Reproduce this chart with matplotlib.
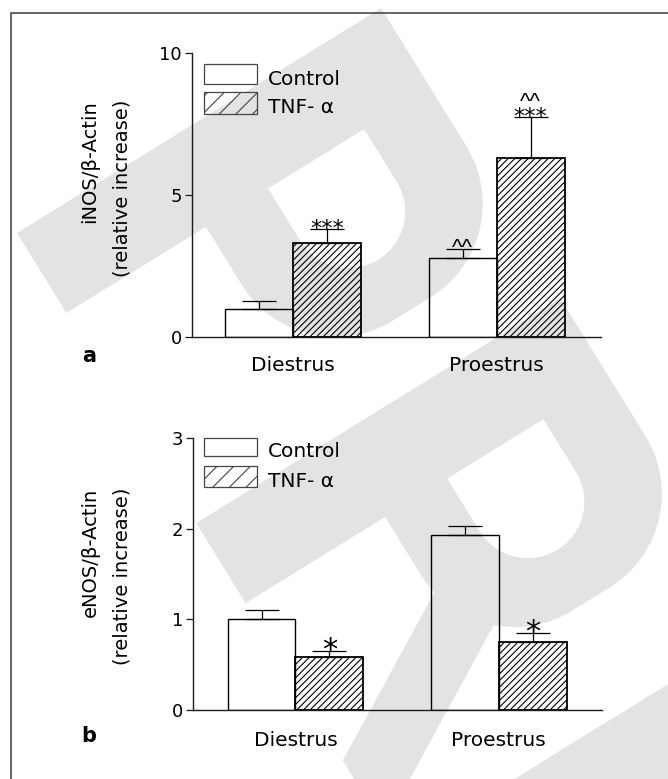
import numpy as np
import matplotlib
matplotlib.use("Agg")
import matplotlib.pyplot as plt
from matplotlib.patches import Polygon, Rectangle
from matplotlib.lines import Line2D

W_PX, H_PX, DPI = 668, 779, 100

# ---------------------------------------------------------------- data
groups = ["Diestrus", "Proestrus"]
series = ["Control", "TNF- α"]

# panel a: iNOS / beta-actin (relative increase), mean and SEM
inos_control = [1.00, 2.80]
inos_control_sem = [0.28, 0.32]
inos_tnf = [3.31, 6.32]
inos_tnf_sem = [0.49, 1.43]
inos_control_marks = [[], ["^^"]]
inos_tnf_marks = [["***"], ["***", "^^"]]
inos_yticks = [0, 5, 10]

# panel b: eNOS / beta-actin (relative increase), mean and SEM
enos_control = [1.00, 1.93]
enos_control_sem = [0.10, 0.10]
enos_tnf = [0.58, 0.75]
enos_tnf_sem = [0.075, 0.105]
enos_control_marks = [[], []]
enos_tnf_marks = [["*"], ["*"]]
enos_yticks = [0, 1, 2, 3]

# ---------------------------------------------------------------- helpers
def fx(x):
    return x / W_PX


def fy(y):
    return 1.0 - y / H_PX


PT = 72.0 / DPI  # points per pixel

fig = plt.figure(figsize=(W_PX / DPI, H_PX / DPI), dpi=DPI)
fig.patch.set_facecolor("white")
plt.rcParams["hatch.linewidth"] = 0.8

# ---------------------------------------------------------------- background watermark glyphs
WM_GREY = "#e2e3e5"
WM_ORIGIN = np.array([17.0, 233.0])
ang = np.deg2rad(31.7)
U_DIR = np.array([np.cos(ang), -np.sin(ang)])
V_DIR = np.array([np.sin(ang), np.cos(ang)])

TOP, BOT, VMAX, RAD, STEM = 428.0, 164.0, 272.0, 110.0, 94.0
C0, C1, CV = 237.0, 350.0, 156.0


def arc(cu, cv, r, a0, a1, n=40):
    t = np.linspace(a0, a1, n)
    return list(zip(cu + r * np.cos(t), cv + r * np.sin(t)))


def glyph_xy(pts, shift):
    p = np.asarray(pts, float)
    xy = WM_ORIGIN + p[:, :1] * U_DIR + (p[:, 1:2] + shift) * V_DIR
    return np.column_stack([xy[:, 0] / W_PX, 1.0 - xy[:, 1] / H_PX])


bowl_outer = ([(0, 0), (TOP, 0), (TOP, VMAX - RAD)]
              + arc(TOP - RAD, VMAX - RAD, RAD, 0, np.pi / 2)
              + [(BOT + RAD, VMAX)]
              + arc(BOT + RAD, VMAX - RAD, RAD, np.pi / 2, np.pi)
              + [(BOT, STEM), (0, STEM)])
bowl_counter = ([(C0, STEM), (C1, STEM), (C1, CV)]
                + arc((C0 + C1) / 2, CV, (C1 - C0) / 2, 0, np.pi)
                + [(C0, CV)])
leg = [(205, 162), (0, 279), (0, 357), (205, 240)]
e_parts = [
    [(0, 0), (TOP, 0), (TOP, STEM), (0, STEM)],
    [(TOP - 74, 0), (TOP, 0), (TOP, 255), (TOP - 74, 255)],
    [(178, 0), (248, 0), (248, 230), (178, 230)],
    [(0, 0), (74, 0), (74, 265), (0, 265)],
]

grey_shapes = [(bowl_outer, 0.0), (bowl_outer, 341.0), (leg, 341.0)]
grey_shapes += [(part, 726.0) for part in e_parts]
for pts, shift in grey_shapes:
    fig.add_artist(Polygon(glyph_xy(pts, shift), closed=True, transform=fig.transFigure,
                           facecolor=WM_GREY, edgecolor="none", zorder=-3))
for shift in (0.0, 341.0):
    fig.add_artist(Polygon(glyph_xy(bowl_counter, shift), closed=True, transform=fig.transFigure,
                           facecolor="white", edgecolor="none", zorder=-2))

# ---------------------------------------------------------------- panels
BAR_W = 0.333
STAR_FONT = ["DejaVu Sans"]
CARET_FONT = ["Liberation Sans", "DejaVu Sans"]

panels = [
    dict(rect=(192.0, 53.3, 600.7, 337.3), xlim=(-0.494, 1.510), ylim=(0, 10),
         yticks=inos_yticks, control=inos_control, control_sem=inos_control_sem,
         tnf=inos_tnf, tnf_sem=inos_tnf_sem,
         control_marks=inos_control_marks, tnf_marks=inos_tnf_marks,
         star_size=16, label_base=371.0,
         ylabel=("iNOS/β-Actin", "(relative increase)"), ylabel_top=100.0,
         letter="a", letter_base=361.7,
         legend_boxes=((64.5, 83.5), (92.5, 114.0)), legend_base=(85.0, 113.3)),
    dict(rect=(193.3, 438.3, 601.7, 710.0), xlim=(-0.502, 1.506), ylim=(0, 3),
         yticks=enos_yticks, control=enos_control, control_sem=enos_control_sem,
         tnf=enos_tnf, tnf_sem=enos_tnf_sem,
         control_marks=enos_control_marks, tnf_marks=enos_tnf_marks,
         star_size=22, label_base=746.0,
         ylabel=("eNOS/β-Actin", "(relative increase)"), ylabel_top=488.0,
         letter="b", letter_base=741.7,
         legend_boxes=((437.5, 455.5), (465.5, 487.0)), legend_base=(456.7, 487.0)),
]


def draw_marks(ax, x, cap, marks, star_size):
    level = 0.0  # pixels above the error-bar cap
    for k, m in enumerate(marks):
        if "*" in m:
            size, fam, rel_c, half = star_size, STAR_FONT, 0.56, 0.215 * star_size / PT
        else:
            size, fam, rel_c, half = 16, CARET_FONT, 0.53, 4.0
        gap = 2.2 if k == 0 else 5.3
        centre = level + gap + half
        level = centre + half
        em = size / PT
        base = centre - rel_c * em
        ax.annotate(m, xy=(x, cap), xycoords="data", xytext=(0, base * PT),
                    textcoords="offset points", ha="center", va="baseline",
                    fontsize=size, family=fam, color="black")


for P in panels:
    x0, y0, x1, y1 = P["rect"]
    ax = fig.add_axes([fx(x0), fy(y1), fx(x1) - fx(x0), (y1 - y0) / H_PX])
    ax.patch.set_visible(False)
    ax.set_xlim(*P["xlim"])
    ax.set_ylim(*P["ylim"])
    for s in ("top", "right"):
        ax.spines[s].set_visible(False)
    for s in ("left", "bottom"):
        ax.spines[s].set_linewidth(1.0)
        ax.spines[s].set_color("#1a1a1a")
    ax.set_xticks([])
    ax.set_yticks(P["yticks"])
    ax.set_yticklabels([str(t) for t in P["yticks"]])
    ax.tick_params(axis="y", length=5, width=0.9, pad=2.4, labelsize=13, color="#1a1a1a")

    centres = np.arange(len(groups), dtype=float)
    xc = centres - BAR_W / 2
    xt = centres + BAR_W / 2
    ax.bar(xc, P["control"], width=BAR_W, facecolor="none", edgecolor="black",
           linewidth=1.0, zorder=3)
    ax.bar(xt, P["tnf"], width=BAR_W, facecolor="none", edgecolor="black",
           linewidth=1.3, hatch="/////", zorder=3)
    for xs, vals, sems in ((xc, P["control"], P["control_sem"]), (xt, P["tnf"], P["tnf_sem"])):
        ax.errorbar(xs, vals, yerr=[np.zeros(len(vals)), sems], fmt="none",
                    ecolor="black", elinewidth=0.9, capsize=12.5, capthick=0.9, zorder=2)

    for i in range(len(groups)):
        draw_marks(ax, xc[i], P["control"][i] + P["control_sem"][i], P["control_marks"][i], P["star_size"])
        draw_marks(ax, xt[i], P["tnf"][i] + P["tnf_sem"][i], P["tnf_marks"][i], P["star_size"])

    # category labels under each pair of bars
    for i, g in enumerate(groups):
        ax.annotate(g, xy=(centres[i], 0), xycoords=("data", "axes fraction"),
                    xytext=(0, -(P["label_base"] - y1) * PT), textcoords="offset points",
                    ha="center", va="baseline", fontsize=14.5)

    # two-line axis title
    fig.text(fx(90), fy(P["ylabel_top"]), P["ylabel"][0], rotation=90,
             ha="center", va="top", fontsize=14)
    fig.text(fx(121.7), fy(P["ylabel_top"]), P["ylabel"][1], rotation=90,
             ha="center", va="top", fontsize=14)

    # panel letter
    fig.text(fx(89), fy(P["letter_base"]), P["letter"], ha="center", va="baseline",
             fontsize=15, fontweight="bold")

    # legend
    for (top, bot), base, name, hatch in zip(P["legend_boxes"], P["legend_base"], series, ("", "//")):
        fig.add_artist(Rectangle((fx(204.4), fy(bot)), (256.7 - 204.4) / W_PX, (bot - top) / H_PX,
                                 transform=fig.transFigure, facecolor="none",
                                 edgecolor="#444444", linewidth=0.9, hatch=hatch, zorder=3))
        fig.text(fx(268.0), fy(base), name, ha="left", va="baseline", fontsize=14.5)

# page frame
fig.add_artist(Line2D([fx(10.5), fx(10.5), 1.0], [0.0, fy(12.5), fy(12.5)],
                      transform=fig.transFigure, color="#3a3a3a", linewidth=1.1, zorder=10))

fig.savefig("out.png", dpi=DPI)
